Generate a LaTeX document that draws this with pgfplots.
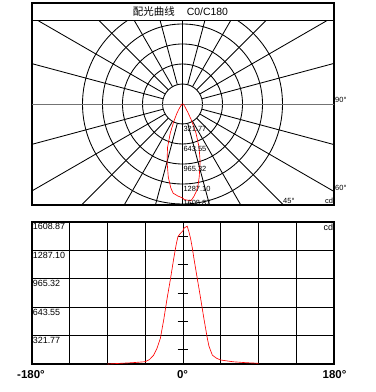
\documentclass[border=0pt]{standalone}
\usepackage{pgfplots}
\pgfplotsset{compat=1.18}
\usepackage{pgfplotstable}
\usepackage{fontspec}
\setmainfont{Liberation Sans}
\newfontfamily\cjk{Noto Sans CJK SC}

\pgfplotstableread{
a v
-90 0
-70 10
-60 15
-45 26
-40 50
-35 100
-31 178
-27 290
-23 500
-19 740
-15 960
-11 1198
-8 1360
-6 1443
-3 1481
0 1510
1 1538
5 1562
7 1500
9 1424
11 1320
13 1198
17 970
21 744
25 510
29 291
31 200
33 150
35 100
40 65
45 45
60 25
75 15
90 8
}\ccurve

\begin{document}
\begin{tikzpicture}
\useasboundingbox (0,0) rectangle (376bp,392bp);
% ---------------- polar panel ----------------
\begin{axis}[at={(32bp,187bp)}, anchor=south west, scale only axis,
  width=302bp, height=202bp, xmin=-150.5, xmax=151.5, ymin=-101, ymax=101,
  xtick=\empty, ytick=\empty, axis line style={line width=1.1bp}, clip=false]
\begin{scope}
\clip (axis cs:-150.5,-101) rectangle (axis cs:151.5,83);
\pgfplotsinvokeforeach{20,40,60,80,100}{\draw[line width=0.85bp] (axis cs:0,0) circle[radius=#1bp];}
\pgfplotsinvokeforeach{15,30,45,60,75,105,120,135,150,165,195,210,225,240,255,285,300,315,330,345}{%
  \draw[line width=0.85bp] (axis cs:0,0) ++(#1:20bp) -- ++(#1:300bp);}
\draw[line width=0.85bp, black!55] (axis cs:-151,0) -- (axis cs:152,0);
\draw[line width=0.85bp] (axis cs:0,-102) -- (axis cs:0,84);
\end{scope}
\draw[line width=1bp] (axis cs:-150.5,83) -- (axis cs:151.5,83);
\addplot[red, line width=0.65bp] table[x expr={\thisrow{v}/16.0887*sin(\thisrow{a})}, y expr={-\thisrow{v}/16.0887*cos(\thisrow{a})}] {\ccurve};
\node[inner sep=0, font=\fontsize{10.5}{12}\selectfont] at (axis cs:-2,92) {{\cjk 配光曲线}\hspace{12bp}C0/C180};
\begin{scope}[every node/.style={inner sep=0, anchor=west, font=\fontsize{7.5}{9}\selectfont}]
\node at (axis cs:0.8,-25) {321.77};
\node at (axis cs:0.8,-45) {643.55};
\node at (axis cs:0.8,-65) {965.32};
\node at (axis cs:0.8,-85) {1287.10};
\node at (axis cs:0.8,-98.5) {1608.87};
\node at (axis cs:152.5,4) {90°};
\node at (axis cs:152.5,-84) {60°};
\node at (axis cs:100.5,-97) {45°};
\node[anchor=east] at (axis cs:150.6,-97) {cd};
\end{scope}
\end{axis}
% ---------------- cartesian panel ----------------
\begin{axis}[at={(32bp,28bp)}, anchor=south west, scale only axis,
  width=302bp, height=142bp, xmin=-180, xmax=180, ymin=0, ymax=1608.87,
  xtick={-135,-90,-45,0,45,90,135}, ytick={321.77,643.55,965.32,1287.10},
  xticklabels={}, yticklabels={}, grid=major,
  major grid style={black, line width=0.9bp}, major tick length=0pt,
  axis line style={line width=1.1bp}, clip=false]
\pgfplotsinvokeforeach{160.89,482.66,804.44,1126.21,1447.98}{%
  \draw[line width=0.9bp] (axis cs:-6.5,#1) -- (axis cs:6.5,#1);}
\addplot[red, line width=0.65bp] table[x=a, y=v] {\ccurve};
\begin{scope}[every node/.style={inner sep=0, anchor=north west, font=\fontsize{9}{10}\selectfont}]
\node at ([xshift=0.6bp,yshift=-1.5bp]axis cs:-180,1608.87) {1608.87};
\node at ([xshift=0.6bp,yshift=-1.5bp]axis cs:-180,1287.10) {1287.10};
\node at ([xshift=0.6bp,yshift=-1.5bp]axis cs:-180,965.32) {965.32};
\node at ([xshift=0.6bp,yshift=-1.5bp]axis cs:-180,643.55) {643.55};
\node at ([xshift=0.6bp,yshift=-1.5bp]axis cs:-180,321.77) {321.77};
\node[anchor=north east] at ([xshift=-0.8bp,yshift=-1.5bp]axis cs:180,1608.87) {cd};
\end{scope}
\end{axis}
\begin{scope}[every node/.style={font=\bfseries\fontsize{11.5}{13}\selectfont, inner sep=0}]
\node at (31bp,17bp) {-180°};
\node at (182.5bp,17bp) {0°};
\node at (334.5bp,17bp) {180°};
\end{scope}
\end{tikzpicture}
\end{document}
